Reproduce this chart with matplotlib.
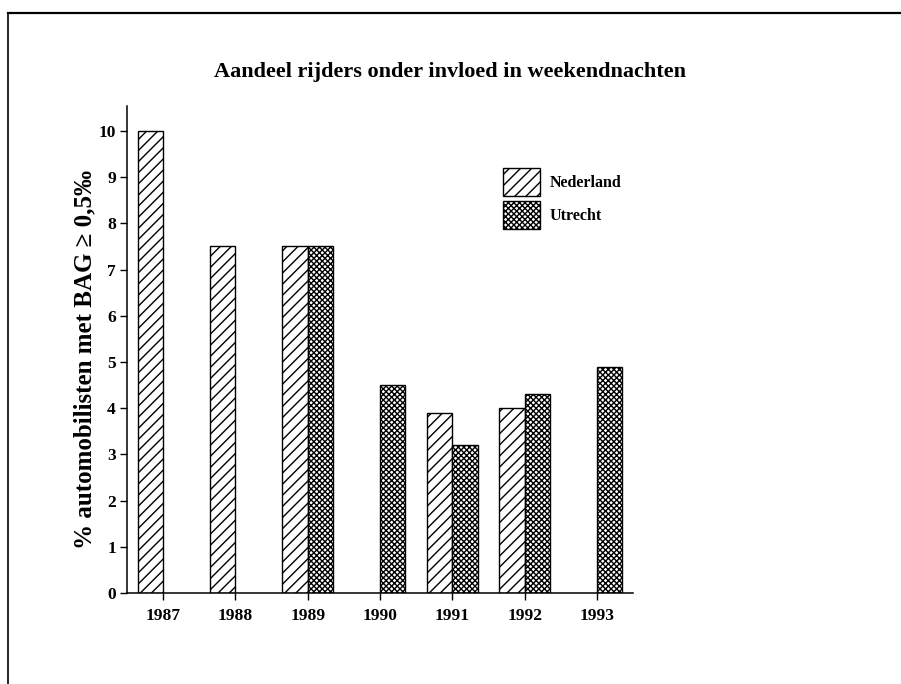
import matplotlib
matplotlib.use("Agg")
import matplotlib.pyplot as plt
from matplotlib.lines import Line2D
from matplotlib.patches import Patch
import numpy as np

# values
years = ["1987", "1988", "1989", "1990", "1991", "1992", "1993"]
nederland = [10.0, 7.5, 7.5, np.nan, 3.9, 4.0, np.nan]
utrecht = [np.nan, np.nan, 7.5, 4.5, 3.2, 4.3, 4.9]

title = "Aandeel rijders onder invloed in weekendnachten"
ylabel = "% automobilisten met BAG \u2265 0,5\u2030"
series_names = ["Nederland", "Utrecht"]

plt.rcParams["font.family"] = ["Liberation Serif", "DejaVu Serif"]
plt.rcParams["hatch.linewidth"] = 1.0

NED_HATCH = "///"
UTR_HATCH = "xxxxxx"


def main():
   fig = plt.figure(figsize=(9.01, 6.84), dpi=100)
   ax = fig.add_axes([0.141, 0.1330, 0.5616, 0.712])

   x = np.arange(len(years))
   w = 0.35
   ned = np.array(nederland)
   utr = np.array(utrecht)
   m1 = ~np.isnan(ned)
   m2 = ~np.isnan(utr)

   ax.bar(x[m1] - w / 2, ned[m1], width=w, facecolor="white", edgecolor="black",
          hatch=NED_HATCH, linewidth=1.0)
   ax.bar(x[m2] + w / 2, utr[m2], width=w, facecolor="white", edgecolor="black",
          hatch=UTR_HATCH, linewidth=1.0)

   ax.set_xlim(-0.5, len(years) - 0.5)
   ax.set_ylim(0, 10.54)
   ax.set_yticks(range(0, 11))
   ax.set_xticks(x)
   ax.set_xticklabels(years)

   for s in ["top", "right"]:
      ax.spines[s].set_visible(False)
   for s in ["left", "bottom"]:
      ax.spines[s].set_linewidth(1.1)

   ax.tick_params(axis="both", direction="out", length=5, width=1.0,
                  labelsize=12.5, pad=3)
   for lbl in ax.get_xticklabels() + ax.get_yticklabels():
      lbl.set_fontweight("bold")
   ax.tick_params(axis="x", pad=6)

   ax.set_ylabel(ylabel, fontsize=18, fontweight="bold")
   ax.yaxis.set_label_coords(-0.06, 0.48)

   handles = [
      Patch(facecolor="white", edgecolor="black", hatch=NED_HATCH, linewidth=1.0),
      Patch(facecolor="white", edgecolor="black", hatch=UTR_HATCH, linewidth=1.0),
   ]
   ax.legend(handles, series_names, loc="upper left",
             bbox_to_anchor=(0.743, 0.873), frameon=False,
             handlelength=2.3, handleheight=2.35, handletextpad=0.6,
             labelspacing=0.3, borderpad=0, borderaxespad=0,
             prop={"size": 11.5, "weight": "bold"})

   fig.text(0.5, 0.895, title, ha="center", va="center", fontsize=16,
            fontweight="bold")

   # border of the scanned page (top and left only)
   fig.add_artist(Line2D([0.0089, 1.0], [0.981, 0.981], transform=fig.transFigure,
                         color="black", linewidth=1.6))
   fig.add_artist(Line2D([0.0089, 0.0089], [0.0, 0.981], transform=fig.transFigure,
                         color="black", linewidth=1.2))

   fig.savefig("out.png", dpi=100)


if __name__ == "__main__":
   main()
